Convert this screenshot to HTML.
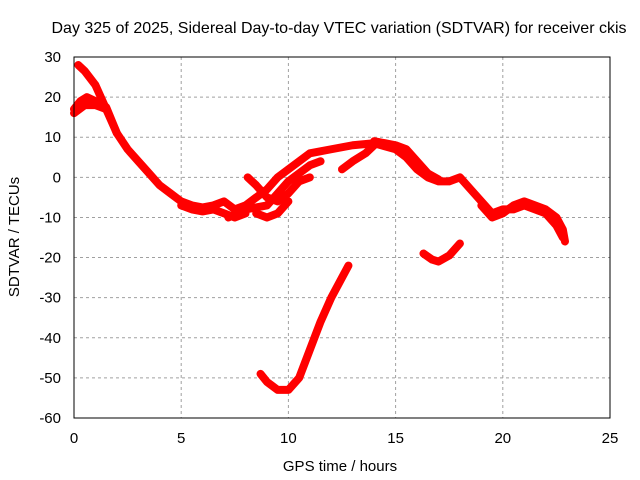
<!DOCTYPE html>
<html><head><meta charset="utf-8"><style>
body{margin:0;background:#fff}
svg{display:block;font-family:"Liberation Sans",sans-serif}
</style></head><body>
<svg id="chart" width="640" height="480">
<rect width="640" height="480" fill="#fff"/>
<text x="339" y="33" font-size="16" text-anchor="middle">Day 325 of 2025, Sidereal Day-to-day VTEC variation (SDTVAR) for receiver ckis</text>
<text x="340" y="471" font-size="15" text-anchor="middle">GPS time / hours</text>
<text transform="translate(19,237) rotate(-90)" font-size="15" text-anchor="middle">SDTVAR / TECUs</text>
<g id="grid"></g><g id="series"></g><g id="ticks"></g>
<rect x="74" y="57" width="536" height="361" fill="none" stroke="#000"/>
</svg>
<script>
const xTicks=[0,5,10,15,20,25];
const yTicks=[30,20,10,0,-10,-20,-30,-40,-50,-60];
const seriesMain=[[0,17],[0.3,19],[0.6,20],[1,19],[1.5,17.5],[2,11],[2.5,7],[3,4],[3.5,1],[4,-2],[4.5,-4],[5,-6],[5.5,-7],[6,-7.5],[6.5,-7],[7,-6],[7.5,-8],[8,-7],[8.5,-5],[9,-3],[9.5,0],[10,2],[10.5,4],[11,6],[12,7],[13,8],[14,8.5],[15,7],[15.5,5],[16,2],[16.5,0],[17,-1],[17.5,-1],[18,0],[18.5,-3],[19,-6],[19.5,-9],[20,-8],[20.5,-8],[21,-7],[21.5,-8],[22,-9],[22.5,-12],[22.8,-15]];
const seriesHigh=[[0.2,28],[0.5,26.5],[1,23],[1.5,17],[2,11]];
const seriesLow=[[0,16],[0.5,18],[1,18],[1.5,17]];
const seriesDip=[[8.7,-49],[9,-51],[9.5,-53],[10,-53],[10.5,-50],[11,-43],[11.5,-36],[12,-30],[12.5,-25],[12.8,-22]];
const seriesDip2=[[16.3,-19],[16.7,-20.5],[17,-21],[17.5,-19.5],[18,-16.5]];
const seriesBranch1=[[8.1,0],[8.5,-2],[9,-5],[9.5,-6],[10,-4],[10.5,-1],[11,0]];
const seriesBranch2=[[7.2,-10],[8,-8],[9,-7],[9.5,-4],[10,-1],[10.5,1],[11,3],[11.5,4]];
const seriesBranch3=[[8.5,-9],[9,-10],[9.5,-9],[10,-6]];
const seriesBranch4=[[12.5,2],[13,4],[13.6,6],[14,8]];
const seriesBranch5=[[14,9],[14.5,8.5],[15,8],[15.5,7],[16,4],[16.5,1],[17,-0.5]];
const seriesBranch6=[[19,-7],[19.5,-10],[20,-9],[20.5,-7],[21,-6],[21.5,-7],[22,-8],[22.5,-10],[22.8,-13],[22.9,-16]];
const seriesBranch7=[[5,-7],[5.5,-8],[6,-8.5],[6.5,-8],[7,-9],[7.5,-10],[8,-9]];
const allSeries=[seriesMain,seriesHigh,seriesLow,seriesDip,seriesDip2,seriesBranch1,seriesBranch2,seriesBranch3,seriesBranch4,seriesBranch5,seriesBranch6,seriesBranch7];
const NS="http://www.w3.org/2000/svg";
function sx(v){return 74+v*536/25;}
function sy(v){return 57+(30-v)*361/90;}
const grid=document.getElementById('grid'),ticks=document.getElementById('ticks'),ser=document.getElementById('series');
xTicks.forEach(t=>{
 if(t>0&&t<25){const l=document.createElementNS(NS,'line');l.setAttribute('x1',sx(t));l.setAttribute('x2',sx(t));l.setAttribute('y1',57);l.setAttribute('y2',418);l.setAttribute('stroke','#a0a0a0');l.setAttribute('stroke-dasharray','3,3');
 
 grid.appendChild(l);}
 const tx=document.createElementNS(NS,'text');tx.setAttribute('x',sx(t));tx.setAttribute('y',443);tx.setAttribute('font-size','15');tx.setAttribute('text-anchor','middle');tx.textContent=t;
 
 ticks.appendChild(tx);
});
yTicks.forEach(t=>{
 if(t<30&&t>-60){const l=document.createElementNS(NS,'line');l.setAttribute('x1',74);l.setAttribute('x2',610);l.setAttribute('y1',sy(t));l.setAttribute('y2',sy(t));l.setAttribute('stroke','#a0a0a0');l.setAttribute('stroke-dasharray','3,3');
 
 grid.appendChild(l);}
 const tx=document.createElementNS(NS,'text');tx.setAttribute('x',61);tx.setAttribute('y',sy(t)+5);tx.setAttribute('font-size','15');tx.setAttribute('text-anchor','end');tx.textContent=t;
 
 ticks.appendChild(tx);
});
allSeries.forEach(s=>{
 const p=document.createElementNS(NS,'polyline');
 p.setAttribute('points',s.map(d=>sx(d[0])+','+sy(d[1])).join(' '));
 p.setAttribute('fill','none');p.setAttribute('stroke','#ff0000');p.setAttribute('stroke-width','8');p.setAttribute('stroke-linejoin','round');p.setAttribute('stroke-linecap','round');
 
 
 ser.appendChild(p);
});
</script>
</body></html>
